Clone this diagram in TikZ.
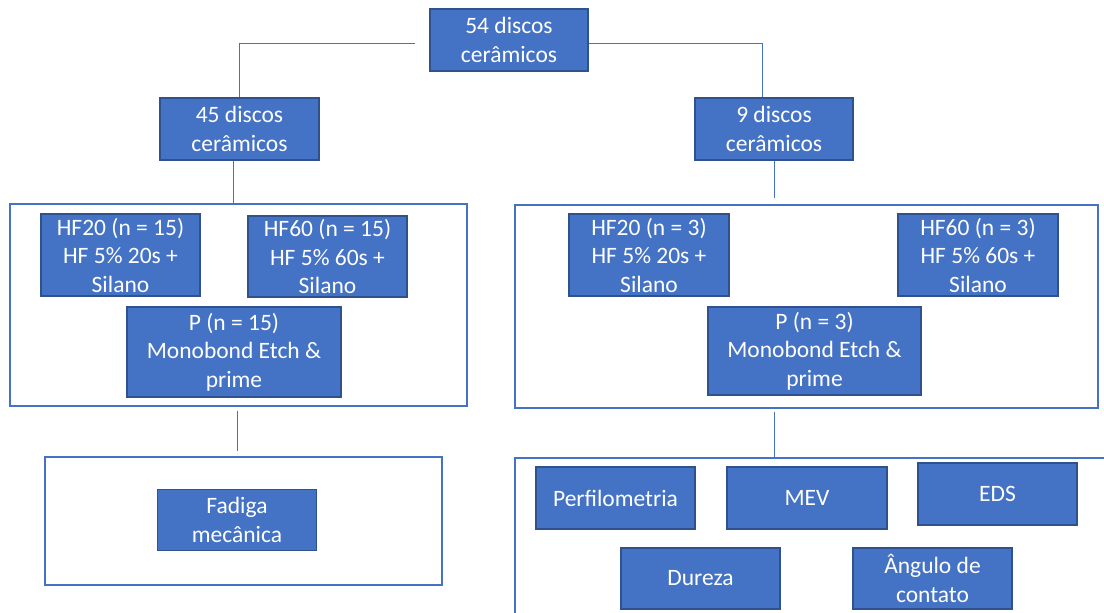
\documentclass[tikz,border=0pt]{standalone}
\usepackage{fontspec}
\setmainfont{Carlito}
\definecolor{ofblue}{HTML}{4472C4}
\definecolor{ofedge}{HTML}{2F528F}
\tikzset{
  box/.style={rectangle, fill=ofblue, draw=ofedge, line width=1.2pt, text=white, align=center,
    inner sep=0pt, font=\fontsize{23.5}{28.5}\selectfont},
  grp/.style={rectangle, draw=ofblue, line width=1.3pt, inner sep=0pt},
  link/.style={draw=ofblue, line width=1pt}
}
\begin{document}
\begin{tikzpicture}[x=1pt, y=-1pt]
\clip (0,0) rectangle (1104,613);
\fill[white] (0,0) rectangle (1104,613);
% top level
\node[box, minimum width=158pt, minimum height=62pt] (d54) at (509,40) {54 discos\\cerâmicos};
\node[box, minimum width=159pt, minimum height=62pt] (d45) at (239.5,129) {45 discos\\cerâmicos};
\node[box, minimum width=158pt, minimum height=62pt] (d9) at (774,129) {9 discos\\cerâmicos};
\draw[link] ([yshift=-3pt]d54.west) ++(-14pt,0) -| (d45.north);
\draw[link] ([yshift=-3pt]d54.east) -| ([xshift=-12pt]d9.north);
% left group
\node[grp, minimum width=457pt, minimum height=202pt] (grpL) at (238.5,305) {};
\node[box, minimum width=159pt, minimum height=82pt] (hf20a) at (120.5,255) {HF20 (n = 15)\\HF 5\% 20s +\\Silano};
\node[box, minimum width=159pt, minimum height=81pt] (hf60a) at (327.5,256.5) {HF60 (n = 15)\\HF 5\% 60s +\\Silano};
\node[box, minimum width=214pt, minimum height=90pt] (pa) at (234,352) {P (n = 15)\\Monobond Etch \&\\prime};
\draw[link] ([xshift=-6pt]d45.south) -- ([xshift=-6pt]d45.south |- grpL.north);
% right group
\node[grp, minimum width=583pt, minimum height=203pt] (grpR) at (806.5,306.5) {};
\node[box, minimum width=160pt, minimum height=82pt] (hf20b) at (649,255) {HF20 (n = 3)\\HF 5\% 20s +\\Silano};
\node[box, minimum width=160pt, minimum height=82pt] (hf60b) at (978,255) {HF60 (n = 3)\\HF 5\% 60s +\\Silano};
\node[box, minimum width=213pt, minimum height=88pt] (pb) at (814.5,351) {P (n = 3)\\Monobond Etch \&\\prime};
\draw[link, shorten >=6pt] (d9.south) -- (d9.south |- grpR.north);
% tests
\node[grp, minimum width=397pt, minimum height=128pt] (fadL) at (243.5,521) {};
\node[box, minimum width=159pt, minimum height=61pt] (fadiga) at (237,520) {Fadiga\\mecânica};
\draw[link, shorten <=4pt, shorten >=5pt] ([xshift=-1.5pt]grpL.south) -- ([xshift=-1.5pt]grpL.south |- fadL.north);
\node[grp, minimum width=605pt, minimum height=172pt] (testR) at (817.5,544) {};
\node[box, minimum width=159pt, minimum height=62pt] (perf) at (615.5,498) {Perfilometria};
\node[box, minimum width=160pt, minimum height=62pt] (mev) at (807,498) {MEV};
\node[box, minimum width=159pt, minimum height=62pt] (eds) at (997.5,494) {EDS};
\node[box, minimum width=159pt, minimum height=61pt] (dureza) at (700.5,578.5) {Dureza};
\node[box, minimum width=159pt, minimum height=61pt] (angulo) at (932.5,578.5) {Ângulo de\\contato};
\draw[link, shorten <=3pt] (d9.south |- grpR.south) -- (d9.south |- testR.north);
\end{tikzpicture}
\end{document}
